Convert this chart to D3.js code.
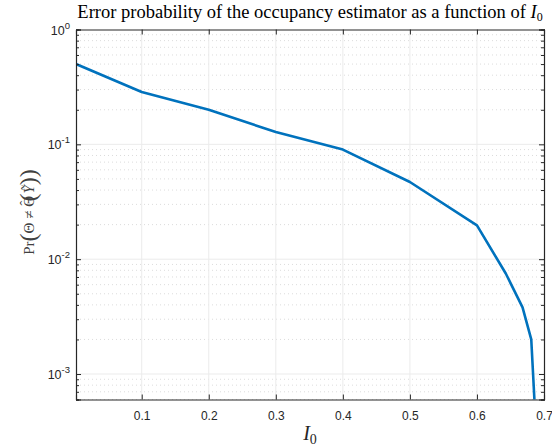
<!doctype html>
<html>
<head>
<meta charset="utf-8">
<style>
  body { margin: 0; background: #fff; }
  .tick text { font: 12px "Liberation Sans", Arial, sans-serif; fill: #262626; }
  .title { font: 18.5px "Liberation Serif", "DejaVu Serif", serif; fill: #000; }
  .lab { font-family: "Liberation Serif", "DejaVu Serif", serif; fill: #262626; }
</style>
<script src="https://cdn.jsdelivr.net/npm/d3@7"></script>
</head>
<body>
<svg id="chart" width="552" height="448"></svg>
<script>
// I0 values and error probability
var i0 = [0.002, 0.1, 0.2, 0.3, 0.4, 0.5, 0.6, 0.643, 0.668, 0.681, 0.69];
var perr = [0.5, 0.286, 0.2, 0.128, 0.09, 0.047, 0.0197, 0.0075, 0.0038, 0.002, 0.0002];
var xTicks = [0.1, 0.2, 0.3, 0.4, 0.5, 0.6, 0.7];
var yTicks = [1e-3, 1e-2, 1e-1, 1];
var yExp = ["-3", "-2", "-1", "0"];

var W = 552, H = 448;
var m = {left: 76, top: 29.5, right: 544, bottom: 399.5};

var svg = d3.select("#chart");

var x = d3.scaleLinear().domain([0.002, 0.7]).range([m.left, m.right]);
var y = d3.scaleLog().domain([6e-4, 1]).range([m.bottom, m.top]);

// minor values for log axis
var minor = [];
[1e-4, 1e-3, 1e-2, 1e-1].forEach(function(d) {
  for (var k = 2; k <= 9; k++) {
    var v = d * k;
    if (v >= 6e-4 && v < 1) minor.push(v);
  }
});

var grid = svg.append("g");
grid.selectAll("line.ymin").data(minor).enter().append("line")
  .attr("x1", m.left).attr("x2", m.right)
  .attr("y1", function(d) { return y(d); }).attr("y2", function(d) { return y(d); })
  .attr("stroke", "#dcdcdc").attr("stroke-width", 1)
  .attr("stroke-dasharray", "1,3");
grid.selectAll("line.ymaj").data(yTicks.slice(0, 3)).enter().append("line")
  .attr("x1", m.left).attr("x2", m.right)
  .attr("y1", function(d) { return y(d); }).attr("y2", function(d) { return y(d); })
  .attr("stroke", "#ebebeb").attr("stroke-width", 1);
grid.selectAll("line.xmaj").data(xTicks.slice(0, 6)).enter().append("line")
  .attr("y1", m.top).attr("y2", m.bottom)
  .attr("x1", function(d) { return x(d); }).attr("x2", function(d) { return x(d); })
  .attr("stroke", "#ebebeb").attr("stroke-width", 1);

// the curve
var line = d3.line()
  .x(function(d, i) { return x(i0[i]); })
  .y(function(d) { return y(d); });

svg.append("clipPath").attr("id", "clip").append("rect")
  .attr("x", m.left).attr("y", m.top)
  .attr("width", m.right - m.left).attr("height", m.bottom - m.top);

svg.append("path")
  .datum(perr)
  .attr("clip-path", "url(#clip)")
  .attr("d", line)
  .attr("fill", "none")
  .attr("stroke", "#0072BD")
  .attr("stroke-width", 2.6)
  .attr("stroke-linejoin", "round");

// axes
var ax = svg.append("g").attr("transform", "translate(0," + m.bottom + ")")
  .call(d3.axisBottom(x).tickValues(xTicks).tickSize(-5).tickPadding(12)
    .tickFormat(d3.format(".1f")));
var axTop = svg.append("g").attr("transform", "translate(0," + m.top + ")")
  .call(d3.axisTop(x).tickValues(xTicks).tickSize(-5).tickFormat(""));

var ay = svg.append("g").attr("transform", "translate(" + m.left + ",0)")
  .call(d3.axisLeft(y).tickValues(yTicks).tickSize(-5).tickPadding(8).tickFormat(""));
var ayMin = svg.append("g").attr("transform", "translate(" + m.left + ",0)")
  .call(d3.axisLeft(y).tickValues(minor).tickSize(-3).tickFormat(""));
var ayR = svg.append("g").attr("transform", "translate(" + m.right + ",0)")
  .call(d3.axisRight(y).tickValues(yTicks).tickSize(-5).tickFormat(""));
var ayRMin = svg.append("g").attr("transform", "translate(" + m.right + ",0)")
  .call(d3.axisRight(y).tickValues(minor).tickSize(-3).tickFormat(""));

[ax, axTop, ay, ayMin, ayR, ayRMin].forEach(function(g) {
  g.selectAll("path.domain").attr("stroke", "#262626").attr("stroke-width", 1.1);
  g.selectAll(".tick line").attr("stroke", "#262626");
});

// y tick labels 10^n
var ylab = svg.append("g").selectAll("text").data(yTicks).enter().append("text")
  .attr("x", 70)
  .attr("y", function(d) { return y(d) + 5; })
  .attr("text-anchor", "end")
  .style("font", "12.5px 'Liberation Sans', Arial, sans-serif")
  .style("fill", "#262626");
ylab.append("tspan").text("10");
ylab.append("tspan").attr("dy", -6).style("font-size", "9.5px")
  .text(function(d, i) { return yExp[i]; });

// title
var t = svg.append("text").attr("class", "title")
  .attr("x", (m.left + m.right) / 2).attr("y", 18)
  .attr("text-anchor", "middle");
t.append("tspan").text("Error probability of the occupancy estimator as a function of ");
t.append("tspan").style("font-style", "italic").text("I");
t.append("tspan").attr("dy", 3).style("font-size", "12px").text("0");

// x label
var xl = svg.append("text").attr("class", "lab")
  .attr("x", (m.left + m.right) / 2).attr("y", 440)
  .attr("text-anchor", "middle").style("font-size", "20px");
xl.append("tspan").style("font-style", "italic").text("I");
xl.append("tspan").attr("dy", 4).style("font-size", "14px").text("0");

// y label
var yl = svg.append("text").attr("class", "lab")
  .attr("transform", "translate(34,212) rotate(-90)")
  .attr("text-anchor", "middle").style("font-size", "15px").style("fill", "#404040");
yl.append("tspan").text("Pr");
yl.append("tspan").style("font-size", "24px").attr("dy", 2).text("(");
yl.append("tspan").attr("dy", -2).text("Θ ≠ Θ");
yl.append("tspan").attr("dx", -9.5).attr("dy", -4).text("ˆ");
yl.append("tspan").attr("dx", -1).attr("dy", 6).style("font-size", "24px").text("(");
yl.append("tspan").attr("dy", -2).style("font-style", "italic").text("Ỹ");
yl.append("tspan").style("font-size", "24px").attr("dy", 2).text("))");
</script>
</body>
</html>
